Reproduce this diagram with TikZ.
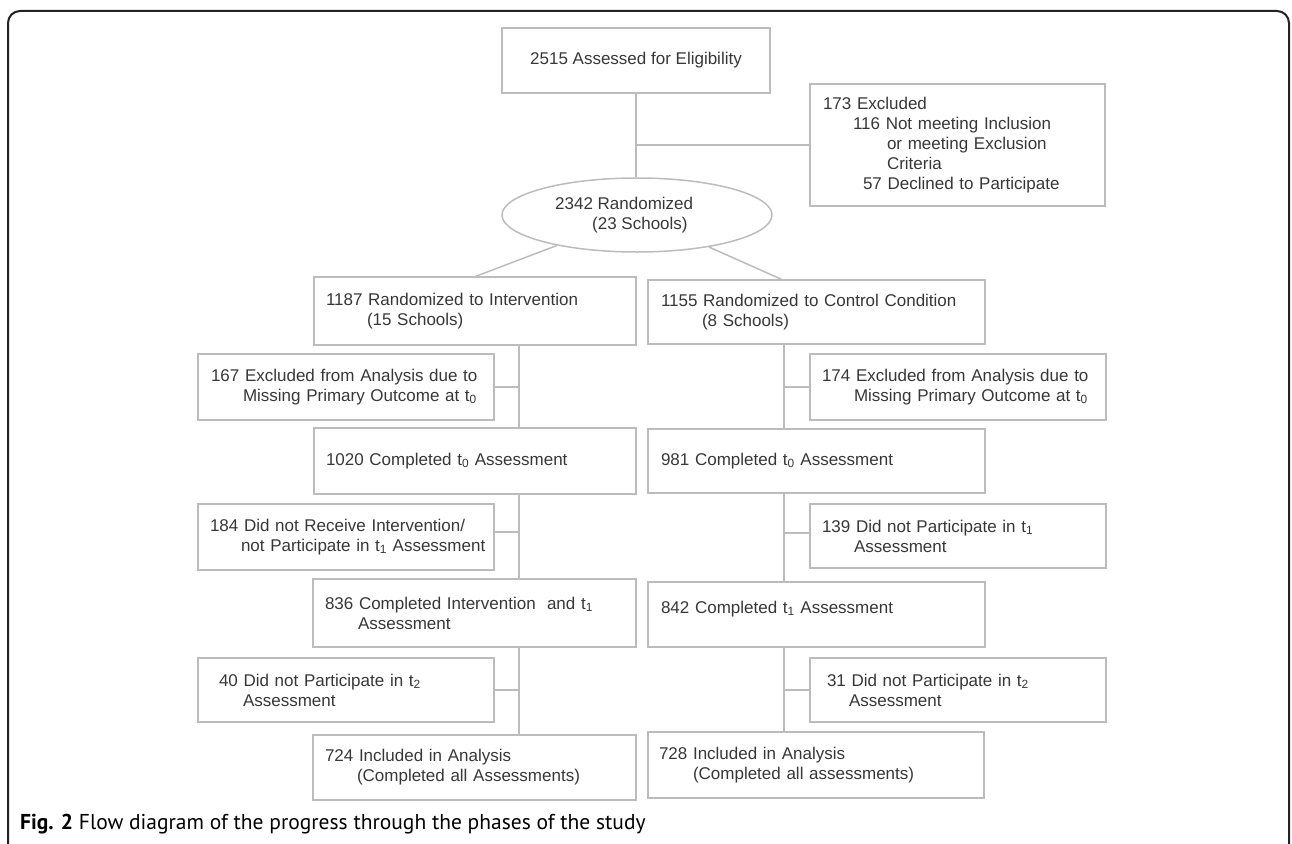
\documentclass[tikz,border=0pt]{standalone}
\usepackage{fontspec}
\setmainfont{Liberation Sans}
\newfontfamily\capfont{PT Sans}
\usetikzlibrary{shapes.geometric}
\definecolor{boxgray}{RGB}{188,188,188}
\definecolor{txtgray}{RGB}{55,55,55}
\definecolor{framec}{RGB}{35,35,35}
\begin{document}
\begin{tikzpicture}[x=1pt,y=-1pt,
  font=\fontsize{17}{20}\selectfont,
  bx/.style={draw=boxgray, line width=1.5pt, text=txtgray, align=left, inner ysep=0pt, rectangle},
  ln/.style={draw=boxgray, line width=1.5pt}]
\useasboundingbox (0,0) rectangle (1292,843);
% outer frame
\draw[framec, line width=2pt, rounded corners=12pt] (8,900) -- (8,11) -- (1289,11) -- (1289,900);

% top part
\node[bx, align=center, minimum width=268pt, minimum height=65pt, inner xsep=0pt] (top) at (636,60.5) {2515 Assessed for Eligibility};
\node[bx, minimum width=295pt, minimum height=122pt, inner xsep=13pt, text width=269pt] (excl) at (957.5,145)
  {173 Excluded\\\hspace*{30pt}116 Not meeting Inclusion\\\hspace*{64pt}or meeting Exclusion\\\hspace*{64pt}Criteria\\\hspace*{40pt}57 Declined to Participate};
\node[ellipse, draw=boxgray, line width=1.5pt, minimum width=270pt, minimum height=74pt, inner sep=0pt] (rand) at (637,215) {};
\node[anchor=west, align=left, inner sep=0pt, text=txtgray] (randtxt) at (555,215) {2342 Randomized\\\hspace*{37pt}(23 Schools)};

% intervention column
\node[bx, minimum width=322pt, minimum height=68pt, inner xsep=12pt, text width=298pt] (intv) at (475,311)
  {1187 Randomized to Intervention\\\hspace*{41pt}(15 Schools)};
\node[bx, minimum width=296pt, minimum height=66pt, inner xsep=13pt, text width=270pt] (ex167) at (346,387)
  {167 Excluded from Analysis due to\\\hspace*{32pt}\mbox{Missing Primary Outcome at t\textsubscript{0}}};
\node[bx, minimum width=322pt, minimum height=66pt, inner xsep=12pt, text width=298pt] (c1020) at (475,461)
  {1020 Completed t\textsubscript{0} Assessment};
\node[bx, minimum width=296pt, minimum height=66pt, inner xsep=12pt, text width=272pt] (ex184) at (346,537)
  {184 Did not Receive Intervention/\\\hspace*{31pt}\mbox{not Participate in t\textsubscript{1} Assessment}};
\node[bx, minimum width=323pt, minimum height=68pt, inner xsep=12pt, text width=299pt] (c836) at (474.5,613)
  {836 Completed Intervention\ \ and t\textsubscript{1}\\\hspace*{33pt}Assessment};
\node[bx, minimum width=296pt, minimum height=64pt, inner xsep=21pt, text width=254pt] (ex40) at (346,690)
  {40 Did not Participate in t\textsubscript{2}\\\hspace*{24pt}Assessment};
\node[bx, minimum width=323pt, minimum height=65pt, inner xsep=12pt, text width=299pt] (c724) at (474.5,767.5)
  {724 Included in Analysis\\\hspace*{32pt}(Completed all Assessments)};

% control column
\node[bx, minimum width=337pt, minimum height=64pt, inner xsep=13pt, text width=311pt] (ctrl) at (816.5,312)
  {1155 Randomized to Control Condition\\\hspace*{41pt}(8 Schools)};
\node[bx, minimum width=296pt, minimum height=66pt, inner xsep=12pt, text width=272pt] (ex174) at (958,387)
  {174 Excluded from Analysis due to\\\hspace*{32pt}\mbox{Missing Primary Outcome at t\textsubscript{0}}};
\node[bx, minimum width=337pt, minimum height=64pt, inner xsep=13pt, text width=311pt] (c981) at (816.5,461)
  {981 Completed t\textsubscript{0} Assessment};
\node[bx, minimum width=296pt, minimum height=64pt, inner xsep=12pt, text width=272pt] (ex139) at (958,536)
  {139 Did not Participate in t\textsubscript{1}\\\hspace*{32pt}Assessment};
\node[bx, minimum width=337pt, minimum height=65pt, inner xsep=13pt, text width=311pt] (c842) at (816.5,614.5)
  {842 Completed t\textsubscript{1} Assessment\\[-5pt]\mbox{}};
\node[bx, minimum width=296pt, minimum height=64pt, inner xsep=17pt, text width=262pt] (ex31) at (958,690)
  {31 Did not Participate in t\textsubscript{2}\\\hspace*{22pt}Assessment};
\node[bx, minimum width=336pt, minimum height=66pt, inner xsep=11pt, text width=314pt] (c728) at (816,765)
  {728 Included in Analysis\\\hspace*{34pt}(Completed all assessments)};

% connectors
\coordinate (lx) at (519,0);
\coordinate (rx) at (784,0);
\coordinate (il) at (474,277);
\coordinate (cr) at (783,280);
\draw[ln] (top.south) -- (top.south |- rand.north);
\draw[ln] (excl.west) -- (excl.west -| top.south);
\draw[ln] (rand) -- (il);
\draw[ln] (rand) -- (cr);

\draw[ln] (intv.south -| lx) -- (c1020.north -| lx);
\draw[ln] (c1020.south -| lx) -- (c836.north -| lx);
\draw[ln] (c836.south -| lx) -- (c724.north -| lx);
\draw[ln] (ex167.east) -- (ex167.east -| lx);
\draw[ln] ([yshift=5pt]ex184.east) -- ([yshift=5pt]ex184.east -| lx);
\draw[ln] (ex40.east) -- (ex40.east -| lx);

\draw[ln] (ctrl.south -| rx) -- (c981.north -| rx);
\draw[ln] (c981.south -| rx) -- (c842.north -| rx);
\draw[ln] (c842.south -| rx) -- (c728.north -| rx);
\draw[ln] (ex174.west) -- (ex174.west -| rx);
\draw[ln] ([yshift=3pt]ex139.west) -- ([yshift=3pt]ex139.west -| rx);
\draw[ln] (ex31.west) -- (ex31.west -| rx);

% caption
\node[anchor=base west, inner sep=0pt, text=black, font=\capfont\fontsize{21.5}{23}\selectfont] (cap) at (20,829)
  {\textbf{Fig. 2} Flow diagram of the progress through the phases of the study};
\end{tikzpicture}
\end{document}
